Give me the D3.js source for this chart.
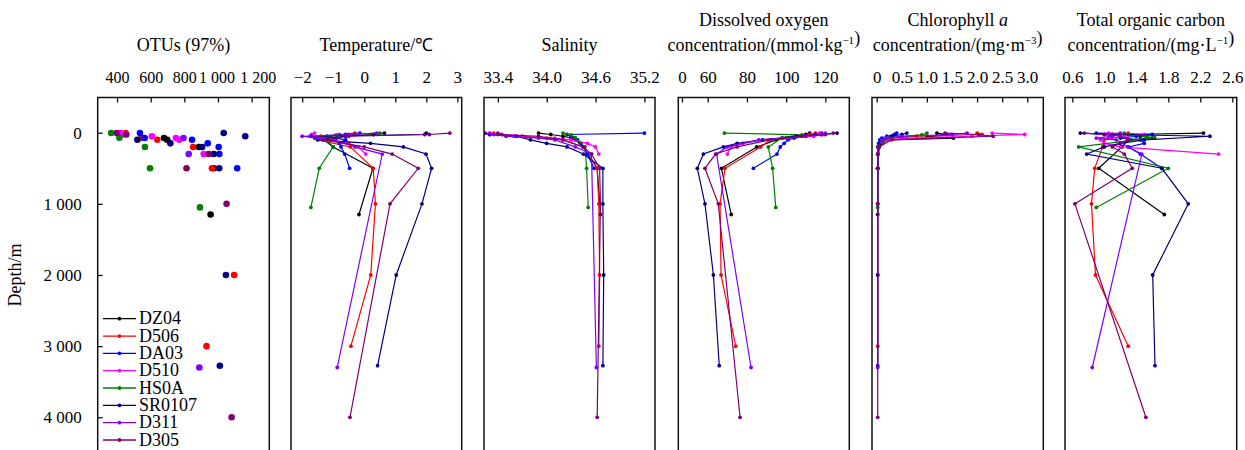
<!DOCTYPE html>
<html>
<head>
<meta charset="utf-8">
<script src="https://cdn.jsdelivr.net/npm/d3@7"></script>
<style>
  body { margin: 0; background: #fff; }
  text { font-family: "Liberation Serif", "Times New Roman", serif; fill: #000; }
</style>
</head>
<body>
<svg id="chart" width="1245" height="450"></svg>
<script>
// ---- stations and sampling depths (m) ----
const stations = ["DZ04", "D506", "DA03", "D510", "HS0A", "SR0107", "D311", "D305"];
const stationColors = ["#000000", "#ff0000", "#0000ff", "#ff00ff", "#008000", "#000080", "#8000ff", "#800070"];

const depths = [
  [5, 25, 50, 75, 100, 200, 500, 1150],
  [5, 25, 50, 75, 100, 200, 500, 1000, 2000, 3000],
  [5, 25, 50, 75, 100, 150, 200, 300, 500],
  [5, 25, 50, 75, 100, 150, 200, 300],
  [5, 30, 70, 200, 500, 1050],
  [5, 25, 50, 100, 150, 200, 300, 500, 1000, 2000, 3275],
  [5, 25, 50, 75, 100, 200, 300, 3300],
  [5, 25, 50, 100, 200, 300, 500, 1000, 4000]
];

// OTUs (97%) per sample, null where not sequenced
const otuValues = [
  [null, null, null, 679, 698, 886, 975, 956],
  [450, null, null, 545, 639, 852, 964, null, 1096, 932],
  [536, null, null, 564, 846, 939, 1004, 1008, 1114],
  [420, 440, 607, 750, 770, null, null, 915],
  [365, null, 414, 566, 596, 893],
  [1034, null, 1162, 521, 717, 906, 975, 1007, null, 1047, 1011],
  [null, null, null, 795, null, null, 826, 889],
  [398, 455, null, null, null, 945, 813, 1051, 1081]
];

// temperature (°C)
const temperatureValues = [
  [0.65, 0.3, -0.6, -1.2, -1.3, -1.0, 0.28, -0.17],
  [-0.3, -0.8, -1.4, -1.6, -1.5, -0.45, 0.29, 0.36, 0.21, -0.43],
  [-0.14, -0.6, -1.2, -0.9, -0.6, -0.8, -0.75, -0.63, -0.47],
  [-1.6, -1.7, -1.75, -1.5, -1.3, -0.5, -0.2, 0.05],
  [0.5, -0.9, -1.3, -1.0, -1.45, -1.72],
  [2.0, 1.95, -1.7, -1.5, 0.2, 1.26, 1.99, 2.17, 1.86, 1.03, 0.43],
  [0.4, -0.5, -2.0, -1.5, -1.0, -0.3, 0.58, -0.87],
  [2.76, 2.1, -0.5, -1.3, 0.0, 0.9, 1.74, 0.83, -0.46]
];

// salinity
const salinityValues = [
  [33.9, 34.05, 34.2, 34.3, 34.35, 34.45, 34.62, 34.66],
  [33.35, 33.4, 33.7, 34.0, 34.2, 34.45, 34.62, 34.64, 34.65, 34.64],
  [35.2, 34.25, 34.3, 34.35, 34.38, 34.42, 34.45, 34.5, 34.58],
  [33.25, 33.3, 33.6, 34.1, 34.3, 34.5, 34.6, 34.64],
  [34.2, 34.3, 34.35, 34.47, 34.49, 34.51],
  [33.23, 33.3, 33.63, 33.8, 34.0, 34.25, 34.45, 34.69, 34.69, 34.70, 34.69],
  [33.3, 33.35, 33.5, 33.9, 34.1, 34.35, 34.55, 34.61],
  [33.4, 33.45, 33.9, 34.2, 34.45, 34.55, 34.65, 34.66, 34.62]
];

// dissolved oxygen (mmol/kg)
const oxygenValues = [
  [112, 110, 106, 100, 95, 85, 67, 72],
  [115, 112, 105, 98, 92, 87, 68.8, 66.3, 66.8, 74.3],
  [118, 115, 110, 104, 101, 99, 97, 95.3, 83.3],
  [117, 119, 114, 100, 88, 78, 72, 70],
  [68.5, 108, 98, 90.9, 93.1, 94.7],
  [126, 118, 105, 88, 75, 68, 57.8, 54.7, 58.6, 62.9, 65.9],
  [120, 118, 110, 98, 86, 70, 64.5, 82.1],
  [124, 120, 108, 92, 75, 64, 58.6, 65.4, 76.5]
];

// chlorophyll a (mg/m3)
const chlorophyllValues = [
  [1.2, 1.4, 1.0, 1.53, 0.2, 0.05, 0.02, 0.02],
  [2.0, 2.1, 0.8, 0.3, 0.1, 0.03, 0.02, 0.02, 0.02, 0.02],
  [0.4, 0.35, 0.2, 0.1, 0.06, 0.04, 0.03, 0.02, 0.02],
  [2.3, 2.95, 1.9, 0.6, 0.2, 0.05, 0.03, 0.02],
  [1.0, 0.9, 0.2, 0.02, 0.02, 0.02],
  [0.6, 0.5, 0.3, 0.1, 0.05, 0.03, 0.02, 0.02, 0.02, 0.02, 0.02],
  [1.8, 1.5, 0.5, 0.2, 0.1, 0.03, 0.02, 0.02],
  [1.36, 2.03, 2.32, 0.3, 0.05, 0.02, 0.02, 0.02, 0.02]
];

// total organic carbon (mg/L)
const tocValues = [
  [2.24, 1.3, 1.45, 1.6, 1.3, 1.22, 0.93, 1.75],
  [1.3, 1.2, 1.1, 1.05, 1.0, 0.98, 0.88, 0.84, 0.89, 1.30],
  [0.9, 1.6, 1.4, 1.2, 1.45, 1.5, 1.3, 1.45, 1.72],
  [1.05, 1.5, 1.25, 1.1, 0.95, 1.0, 1.2, 2.43],
  [1.25, 1.35, 1.63, 0.68, 1.8, 0.9],
  [0.7, 1.1, 2.32, 1.5, 1.2, 1.0, 0.78, 1.72, 2.05, 1.605, 1.634],
  [1.2, 1.0, 1.1, 0.9, 1.15, 1.3, 1.47, 0.85],
  [0.75, 1.0, 1.2, 1.3, 1.1, 1.25, 1.35, 0.633, 1.52]
];

// axis ticks
const depthTicks = [0, 1000, 2000, 3000, 4000];
const otuTicks = [400, 600, 800, 1000, 1200];
const temperatureTicks = [-2, -1, 0, 1, 2, 3];
const salinityTicks = [33.4, 34.0, 34.6, 35.2];
const oxygenTicks = [0, 60, 80, 100, 120];
const chlorophyllTicks = [0, 0.5, 1.0, 1.5, 2.0, 2.5, 3.0];
const tocTicks = [0.6, 1.0, 1.4, 1.8, 2.2, 2.6];

// ---- layout ----
const svg = d3.select("#chart");
const frameTop = 97.5, frameBottom = 470;
const spaced = d3.formatLocale({decimal: ".", thousands: " ", grouping: [3], currency: ["", ""], minus: "\u2212"});
const fmtInt = spaced.format(",d");
const fmt1 = spaced.format(".1f");
const fmtSigned = spaced.format("d");

const y = d3.scaleLinear().domain([0, 4000]).range([132.7, 417.3]);

const panels = [
  {key: "otu", values: otuValues, x0: 97.7, x1: 269.3,
   scale: d3.scaleLinear().domain([285, 1305]), ticks: otuTicks, fmt: fmtInt,
   title: [["OTUs (97%)"]], scatter: true},
  {key: "temp", values: temperatureValues, x0: 291, x1: 461.7,
   scale: d3.scaleLinear().domain([-2.36, 3.14]), ticks: temperatureTicks, fmt: fmtSigned,
   title: [["Temperature/\u2103"]]},
  {key: "sal", values: salinityValues, x0: 484, x1: 655,
   scale: d3.scaleLinear().domain([33.23, 35.33]), ticks: salinityTicks, fmt: fmt1,
   title: [["Salinity"]]},
  {key: "do", values: oxygenValues, x0: 678.3, x1: 849.3,
   // broken scale: the 0–50 stretch is compressed next to the axis origin
   scale: d3.scaleLinear().domain([-30, 50, 132.2]), ticks: oxygenTicks, fmt: d => String(d),
   title: [["Dissolved oxygen"], ["concentration/(mmol\u00b7kg", {sup: "\u22121"}, ")"]]},
  {key: "chl", values: chlorophyllValues, x0: 872, x1: 1043.3,
   scale: d3.scaleLinear().domain([-0.094, 3.32]), ticks: chlorophyllTicks, fmt: d => d === 0 ? "0" : fmt1(d),
   title: [["Chlorophyll ", {it: "a"}], ["concentration/(mg\u00b7m", {sup: "\u22123"}, ")"]]},
  {key: "toc", values: tocValues, x0: 1065, x1: 1236.7,
   scale: d3.scaleLinear().domain([0.509, 2.655]), ticks: tocTicks, fmt: fmt1,
   title: [["Total organic carbon"], ["concentration/(mg\u00b7L", {sup: "\u22121"}, ")"]]}
];

panels.forEach(p => {
  const x = p.scale;
  if (x.domain().length === 3) {
    // piecewise range for the broken oxygen axis
    x.range([p.x0, p.x0 + 9.8, p.x1]);
  } else {
    x.range([p.x0, p.x1]);
  }

  const g = svg.append("g");

  // clip so nothing spills outside the frame
  const clipId = "clip-" + p.key;
  svg.append("clipPath").attr("id", clipId)
    .append("rect").attr("x", p.x0).attr("y", frameTop).attr("width", p.x1 - p.x0).attr("height", frameBottom - frameTop);

  const plot = g.append("g").attr("clip-path", `url(#${clipId})`);

  stations.forEach((s, i) => {
    const pts = depths[i].map((d, j) => ({depth: d, v: p.values[i][j]})).filter(d => d.v != null);
    const col = stationColors[i];
    if (p.scatter) {
      plot.selectAll(null).data(pts).enter().append("circle")
        .attr("cx", d => x(d.v)).attr("cy", d => y(d.depth)).attr("r", 3.3)
        .attr("fill", col);
    } else {
      const line = d3.line().x(d => x(d.v)).y(d => y(d.depth));
      plot.append("path").datum(pts).attr("d", line)
        .attr("fill", "none").attr("stroke", col).attr("stroke-width", 1.2);
      plot.selectAll(null).data(pts).enter().append("circle")
        .attr("cx", d => x(d.v)).attr("cy", d => y(d.depth)).attr("r", 1.9)
        .attr("fill", col);
    }
  });

  // frame
  g.append("rect").attr("x", p.x0).attr("y", frameTop)
    .attr("width", p.x1 - p.x0).attr("height", frameBottom - frameTop)
    .attr("fill", "none").attr("stroke", "#111").attr("stroke-width", 1.5);

  // top axis with inward ticks
  const ax = d3.axisTop(x).tickValues(p.ticks).tickFormat(p.fmt)
    .tickSize(-5).tickSizeOuter(0).tickPadding(15);
  const axG = g.append("g").attr("transform", `translate(0,${frameTop})`).call(ax);
  axG.select(".domain").remove();
  axG.selectAll(".tick line").attr("stroke", "#111").attr("stroke-width", 1.3);
  axG.selectAll(".tick text").attr("font-size", p.scatter ? 16 : 17)
    .attr("font-family", "Liberation Serif, serif").attr("fill", "#000");
  if (p.scatter) {
    // the two wide labels are nudged apart so they don't touch
    axG.selectAll(".tick text").filter(d => d === 1000).attr("dx", -1.5);
    axG.selectAll(".tick text").filter(d => d === 1200).attr("dx", 6);
  }

  // title lines
  const cx = (p.x0 + p.x1) / 2;
  const baselines = p.title.length === 1 ? [51] : [26, 51];
  p.title.forEach((parts, k) => {
    const t = g.append("text").attr("x", cx).attr("y", baselines[k])
      .attr("text-anchor", "middle").attr("font-size", 18);
    parts.forEach(part => {
      if (typeof part === "string") {
        t.append("tspan").text(part);
      } else if (part.sup) {
        t.append("tspan").attr("font-size", 11).attr("dy", -7).text(part.sup);
        t.append("tspan").attr("dy", 7).text("");
      } else if (part.it) {
        t.append("tspan").attr("font-style", "italic").text(part.it);
      }
    });
  });

  // depth axis on the first panel
  if (p.scatter) {
    const ay = d3.axisLeft(y).tickValues(depthTicks).tickFormat(fmtInt)
      .tickSize(-5).tickSizeOuter(0).tickPadding(16);
    const ayG = g.append("g").attr("transform", `translate(${p.x0},0)`).call(ay);
    ayG.select(".domain").remove();
    ayG.selectAll(".tick line").attr("stroke", "#111").attr("stroke-width", 1.3);
    ayG.selectAll(".tick text").attr("font-size", 17).attr("font-family", "Liberation Serif, serif").attr("fill", "#000");

    svg.append("text").attr("transform", "translate(21,275) rotate(-90)")
      .attr("text-anchor", "middle").attr("font-size", 18).text("Depth/m");

    // legend
    const leg = g.append("g");
    stations.forEach((s, i) => {
      const ly = 318.7 + i * 17.33;
      leg.append("line").attr("x1", 103).attr("x2", 136).attr("y1", ly).attr("y2", ly)
        .attr("stroke", stationColors[i]).attr("stroke-width", 1.3);
      leg.append("circle").attr("cx", 119.5).attr("cy", ly).attr("r", 1.9).attr("fill", stationColors[i]);
      leg.append("text").attr("x", 139).attr("y", ly + 5.5).attr("font-size", 18).text(s);
    });
  }
});
</script>
</body>
</html>
